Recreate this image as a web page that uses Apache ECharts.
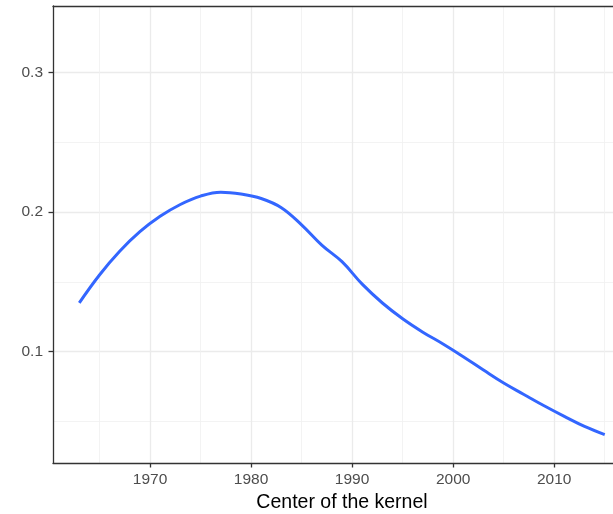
<!DOCTYPE html>
<html>
<head>
<meta charset="utf-8">
<script src="https://cdn.jsdelivr.net/npm/echarts@6/dist/echarts.min.js"></script>
<style>
  html, body { margin: 0; padding: 0; background: #fff; }
  #chart { width: 613px; height: 514px; }
</style>
</head>
<body>
<div id="chart"></div>
<script>
// kernel center (year) and estimated value
const years = [1963, 1965, 1967, 1969, 1971, 1973, 1975, 1977, 1979, 1981, 1983, 1985, 1987, 1989,
  1991, 1993, 1995, 1997, 1999, 2001, 2003, 2005, 2007, 2009, 2011, 2013, 2015];
const values = [0.135, 0.155, 0.172, 0.186, 0.197, 0.2055, 0.2115, 0.2143, 0.2130, 0.2098, 0.2032, 0.1909, 0.1764, 0.1645,
  0.1484, 0.1349, 0.1236, 0.1140, 0.1055, 0.0964, 0.0868, 0.0775, 0.0693, 0.0612, 0.0536, 0.0464, 0.0405];

const xMajor = [1970, 1980, 1990, 2000, 2010];
const xMinor = [1965, 1975, 1985, 1995, 2005, 2015];
const yMajor = [0.1, 0.2, 0.3];
const yMinor = [0.05, 0.15, 0.25];
const xName = 'Center of the kernel';

const xRange = [1960.4, 2017.6];
const yRange = [0.0202, 0.3478];

const font = 'Liberation Sans, Arial, sans-serif';
const gridColor = '#ebebeb';
const frameColor = '#333';

function majorAxis(ticks, range, isX) {
  return {
    type: 'value',
    min: range[0],
    max: range[1],
    position: isX ? 'bottom' : 'left',
    name: isX ? xName : '',
    nameLocation: 'middle',
    nameGap: 30,
    nameTextStyle: { color: '#000', fontSize: 19.5, fontFamily: font },
    axisLine: { show: true, onZero: false, lineStyle: { color: frameColor, width: 1.3 } },
    axisTick: { show: true, customValues: ticks, length: 4.5, lineStyle: { color: frameColor, width: 1.3 } },
    axisLabel: {
      customValues: ticks,
      color: '#4d4d4d', fontSize: 15.5, fontFamily: font,
      margin: isX ? 9 : 10,
      formatter: v => isX ? String(Math.round(v)) : v.toFixed(1)
    },
    splitLine: { show: true, lineStyle: { color: gridColor, width: 1.3 } }
  };
}

function minorAxis(ticks, range, pos) {
  return {
    type: 'value',
    min: range[0],
    max: range[1],
    position: pos,
    axisLine: { show: false, onZero: false },
    axisTick: { show: false, customValues: ticks },
    axisLabel: { show: false, customValues: ticks },
    splitLine: { show: true, lineStyle: { color: '#f0f0f0', width: 0.8 } }
  };
}

// top edge of the panel frame
const topFrame = {
  type: 'value',
  min: xRange[0],
  max: xRange[1],
  position: 'top',
  axisLine: { show: true, onZero: false, lineStyle: { color: frameColor, width: 1.3 } },
  axisTick: { show: false },
  axisLabel: { show: false },
  splitLine: { show: false }
};

const chart = echarts.init(document.getElementById('chart'), null, { renderer: 'canvas' });
chart.setOption({
  animation: false,
  backgroundColor: '#fff',
  grid: {
    left: 53, top: 6, width: 578, height: 457,
    outerBoundsMode: 'none', containLabel: false, show: false
  },
  xAxis: [majorAxis(xMajor, xRange, true), minorAxis(xMinor, xRange, 'bottom'), topFrame],
  yAxis: [majorAxis(yMajor, yRange, false), minorAxis(yMinor, yRange, 'left')],
  series: [{
    type: 'line',
    xAxisIndex: 0,
    yAxisIndex: 0,
    data: years.map((y, i) => [y, values[i]]),
    smooth: 0.4,
    showSymbol: false,
    lineStyle: { color: '#3366ff', width: 3 }
  }]
});
</script>
</body>
</html>
